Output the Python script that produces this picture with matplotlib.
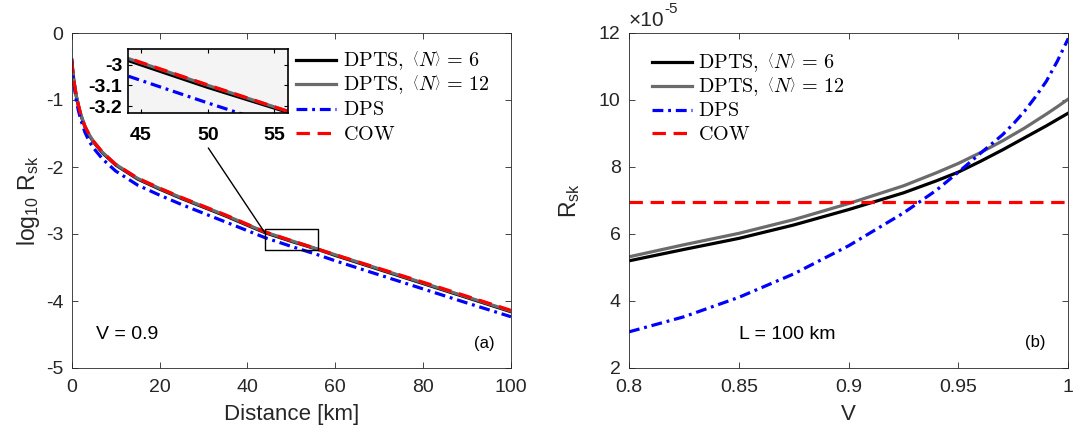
import numpy as np
import matplotlib
matplotlib.use("Agg")
import matplotlib.pyplot as plt
from matplotlib.patches import Rectangle, ConnectionPatch
from matplotlib.lines import Line2D

plt.rcParams['font.family'] = ['Liberation Sans', 'DejaVu Sans']
plt.rcParams['mathtext.fontset'] = 'custom'
plt.rcParams['mathtext.rm'] = 'Liberation Sans'
plt.rcParams['mathtext.it'] = 'Liberation Sans:italic'
plt.rcParams['axes.unicode_minus'] = False

# panel (a): log10 Rsk vs distance, V = 0.9
dist = [0, 0.25, 0.5, 1, 1.5, 2, 3, 4, 5, 7, 10, 15, 20, 25, 30, 35, 40, 44, 50, 56, 60, 70, 80, 90, 100]
log_dpts6 = [-0.40, -0.58, -0.72, -0.93, -1.08, -1.21, -1.40, -1.53, -1.63, -1.79, -1.97, -2.18, -2.33,
             -2.47, -2.60, -2.73, -2.87, -2.98, -3.11, -3.23, -3.32, -3.53, -3.74, -3.95, -4.16]
log_dpts12 = [-0.40, -0.57, -0.71, -0.92, -1.07, -1.20, -1.39, -1.52, -1.62, -1.78, -1.96, -2.17, -2.32,
              -2.46, -2.59, -2.72, -2.86, -2.97, -3.10, -3.225, -3.31, -3.52, -3.73, -3.94, -4.15]
log_dps = [-0.40, -0.60, -0.76, -0.99, -1.15, -1.28, -1.48, -1.62, -1.72, -1.88, -2.06, -2.27, -2.42,
           -2.56, -2.69, -2.82, -2.95, -3.055, -3.185, -3.31, -3.40, -3.61, -3.82, -4.03, -4.235]
log_cow = [-0.40, -0.57, -0.71, -0.92, -1.07, -1.20, -1.39, -1.52, -1.62, -1.78, -1.96, -2.165, -2.315,
           -2.455, -2.585, -2.715, -2.855, -2.968, -3.098, -3.225, -3.31, -3.515, -3.72, -3.93, -4.14]

# panel (b): Rsk (x1e-5) vs visibility V, L = 100 km
vis = [0.80, 0.825, 0.85, 0.875, 0.90, 0.925, 0.94, 0.95, 0.96, 0.97, 0.975, 0.98, 0.985, 0.99, 0.995, 1.00]
r_dpts6 = [5.19, 5.53, 5.86, 6.26, 6.72, 7.22, 7.58, 7.84, 8.16, 8.50, 8.68, 8.86, 9.04, 9.22, 9.41, 9.60]
r_dpts12 = [5.31, 5.67, 6.01, 6.42, 6.90, 7.43, 7.82, 8.10, 8.42, 8.77, 8.96, 9.15, 9.36, 9.57, 9.79, 10.02]
r_dps = [3.07, 3.52, 4.10, 4.80, 5.64, 6.62, 7.30, 7.84, 8.40, 8.95, 9.28, 9.65, 10.08, 10.55, 11.15, 11.83]
r_cow = [6.96] * len(vis)

labels = [r"$\mathrm{DPTS,}\ \left\langle N\right\rangle\,=\,6$",
          r"$\mathrm{DPTS,}\ \left\langle N\right\rangle\,=\,12$",
          r"$\mathrm{DPS}$", r"$\mathrm{COW}$"]

zoom_x = [44, 56]
zoom_y = [-3.235, -2.925]

W, H = 1084, 433
fig = plt.figure(figsize=(W / 100, H / 100), dpi=100)
axc = '#262626'
styles = [dict(color='black', lw=2.3),
          dict(color='#6b6b6b', lw=2.3),
          dict(color='blue', lw=2.3, dashes=(3.4, 1.5, 0.9, 1.5)),
          dict(color='red', lw=2.3, dashes=(4.2, 2.4))]


def styled(ax):
    ax.tick_params(direction='in', length=4, width=0.6, top=True, right=True,
                   labelsize=14, colors=axc, pad=6)
    ax.tick_params(axis='x', pad=8)
    for s in ax.spines.values():
        s.set_color(axc)
        s.set_linewidth(0.6)


def draw(ax, x, ys):
    for y, st in zip(ys, styles):
        ax.plot(x, y, **st)


def key(x0, rows):
    # legend without box, rows placed at fixed pixel heights
    for y, lab, st in zip(rows, labels, styles):
        fig.add_artist(Line2D([x0 / W, (x0 + 40) / W], [1 - y / H, 1 - y / H],
                              transform=fig.transFigure, **st))
        fig.text((x0 + 47) / W, 1 - (y + 6.5) / H, lab, fontsize=14.5, va='baseline',
                 math_fontfamily='cm')


ax1 = fig.add_axes([71.7 / W, 1 - 368 / H, 439.3 / W, 335 / H])
draw(ax1, dist, [log_dpts6, log_dpts12, log_dps, log_cow])
ax1.set_xlim(0, 100)
ax1.set_ylim(-5, 0)
ax1.set_xticks([0, 20, 40, 60, 80, 100])
ax1.set_yticks([0, -1, -2, -3, -4, -5])
styled(ax1)
ax1.set_xlabel("Distance [km]", fontsize=16, color=axc, labelpad=6)
ax1.set_ylabel(r"log$_{10}$ R$_{\mathrm{sk}}$", fontsize=16.5, color=axc, labelpad=3)
ax1.text(5.6, -4.5, "V = 0.9", fontsize=14, va='center')
ax1.text(94, -4.63, "(a)", fontsize=12, ha='center', va='center')
ax1.add_patch(Rectangle((zoom_x[0], zoom_y[0]), zoom_x[1] - zoom_x[0], zoom_y[1] - zoom_y[0],
                        fill=False, edgecolor='black', lw=1, zorder=5))

ins = fig.add_axes([127.7 / W, 1 - 113.3 / H, 160 / W, 64.3 / H], facecolor='#f4f4f4')
draw(ins, dist, [log_dpts6, log_dpts12, log_dps, log_cow])
ins.set_xlim(zoom_x)
ins.set_ylim(zoom_y)
ins.set_xticks([45, 50, 55])
ins.set_yticks([-3, -3.1, -3.2])
ins.set_yticklabels(['-3', '-3.1', '-3.2'])
ins.tick_params(direction='in', length=3, width=0.8, top=True, right=True, labelsize=14, pad=4)
ins.tick_params(axis='x', pad=10)
for lab in ins.get_xticklabels() + ins.get_yticklabels():
    lab.set_fontweight('bold')
for s in ins.spines.values():
    s.set_linewidth(1.2)

con = ConnectionPatch(xyA=(0.504, -0.54), coordsA=ins.transAxes,
                      xyB=(zoom_x[0], -2.985), coordsB=ax1.transData, color='black', lw=1)
fig.add_artist(con)
key(296, [60, 84, 108.5, 133])

ax2 = fig.add_axes([629 / W, 1 - 367.7 / H, 439.3 / W, 335 / H])
draw(ax2, vis, [r_dpts6, r_dpts12, r_dps, r_cow])
ax2.set_xlim(0.8, 1)
ax2.set_ylim(2, 12)
ax2.set_xticks([0.8, 0.85, 0.9, 0.95, 1])
ax2.set_xticklabels(['0.8', '0.85', '0.9', '0.95', '1'])
ax2.set_yticks([2, 4, 6, 8, 10, 12])
styled(ax2)
ax2.set_xlabel("V", fontsize=16, color=axc, labelpad=6)
ax2.set_ylabel(r"R$_{\mathrm{sk}}$", fontsize=16.5, color=axc, labelpad=12)
t = ax2.text(0.0, 1.008, "\u00d710", transform=ax2.transAxes, fontsize=15, color=axc, va='bottom')
ax2.annotate("-5", xy=(1, 0.75), xycoords=t, fontsize=11, color=axc, va='bottom')
ax2.text(0.850, 2.98, "L = 100 km", fontsize=14, va='center')
ax2.text(0.985, 2.74, "(b)", fontsize=12, ha='center', va='center')
key(651.5, [61.7, 85.5, 109.5, 133.5])

fig.savefig("out.png", dpi=100)
